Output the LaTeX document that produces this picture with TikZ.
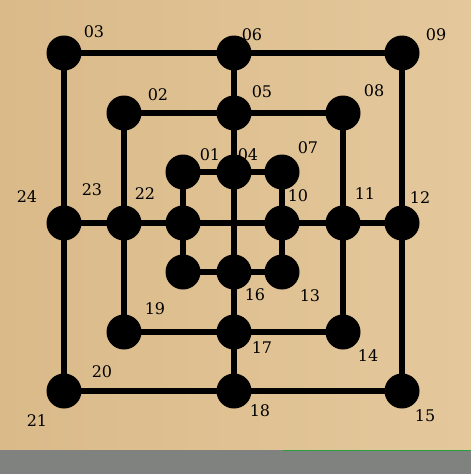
\documentclass[tikz,border=0pt]{standalone}
\usepackage{fontspec}
\setmainfont{DejaVu Serif}
\usepackage{tikz}
\usetikzlibrary{positioning}
\definecolor{wood}{RGB}{218,186,137}
\definecolor{woodlight}{RGB}{228,200,156}
\definecolor{strip}{RGB}{128,130,128}
\definecolor{edgegreen}{RGB}{40,160,60}

\begin{document}
\begin{tikzpicture}[
    x=1pt, y=-1pt,
    spot/.style={circle, fill=black, minimum size=35pt, inner sep=0pt},
    track/.style={line width=6.5pt, black},
    num/.style={font=\fontsize{16}{16}\selectfont, inner sep=0pt, text=black}
]
    \useasboundingbox (0,0) rectangle (471,474);
    \shade[left color=wood, right color=woodlight] (0,0) rectangle (471,450);
    \fill[strip] (0,450) rectangle (471,474);
    \draw[edgegreen, line width=1pt] (283,450.5) -- (471,450.5);

    % outer ring
    \node[spot] (n03) at (64,53)   {};
    \node[spot] (n06) at (234,53)  {};
    \node[spot] (n09) at (402,53)  {};
    \node[spot] (n12) at (402,223) {};
    \node[spot] (n15) at (402,391) {};
    \node[spot] (n18) at (234,391) {};
    \node[spot] (n21) at (64,391)  {};
    \node[spot] (n24) at (64,223)  {};
    % middle ring
    \node[spot] (n02) at (124,113) {};
    \node[spot] (n05) at (234,113) {};
    \node[spot] (n08) at (343,113) {};
    \node[spot] (n11) at (343,223) {};
    \node[spot] (n14) at (343,332) {};
    \node[spot] (n17) at (234,332) {};
    \node[spot] (n20) at (124,332) {};
    \node[spot] (n23) at (124,223) {};
    % inner ring
    \node[spot] (n01) at (183,172) {};
    \node[spot] (n04) at (234,172) {};
    \node[spot] (n07) at (282,172) {};
    \node[spot] (n10) at (282,223) {};
    \node[spot] (n13) at (282,272) {};
    \node[spot] (n16) at (234,272) {};
    \node[spot] (n19) at (183,272) {};
    \node[spot] (n22) at (183,223) {};

    \draw[track] (n03.center) -- (n09.center) -- (n15.center) -- (n21.center) -- cycle;
    \draw[track] (n02.center) -- (n08.center) -- (n14.center) -- (n20.center) -- cycle;
    \draw[track] (n01.center) -- (n07.center) -- (n13.center) -- (n19.center) -- cycle;
    \draw[track] (n06.center) -- (n18.center);
    \draw[track] (n24.center) -- (n12.center);

    % labels
    \node[num] (t01) at (210,155) {01};
    \node[num] (t02) at (158,95)  {02};
    \node[num] (t03) at (94,32)   {03};
    \node[num] (t04) at (248,155) {04};
    \node[num] (t05) at (262,92)  {05};
    \node[num] (t06) at (252,35)  {06};
    \node[num] (t07) at (308,148) {07};
    \node[num] (t08) at (374,91)  {08};
    \node[num] (t09) at (436,35)  {09};
    \node[num] (t10) at (298,196) {10};
    \node[num] (t11) at (365,194) {11};
    \node[num] (t12) at (420,198) {12};
    \node[num] (t13) at (310,296) {13};
    \node[num] (t14) at (368,356) {14};
    \node[num] (t15) at (425,416) {15};
    \node[num] (t16) at (255,295) {16};
    \node[num] (t17) at (262,348) {17};
    \node[num] (t18) at (260,411) {18};
    \node[num] (t19) at (155,309) {19};
    \node[num] (t20) at (102,372) {20};
    \node[num] (t21) at (37,421)  {21};
    \node[num] (t22) at (145,194) {22};
    \node[num] (t23) at (92,190)  {23};
    \node[num] (t24) at (27,197)  {24};
\end{tikzpicture}
\end{document}
